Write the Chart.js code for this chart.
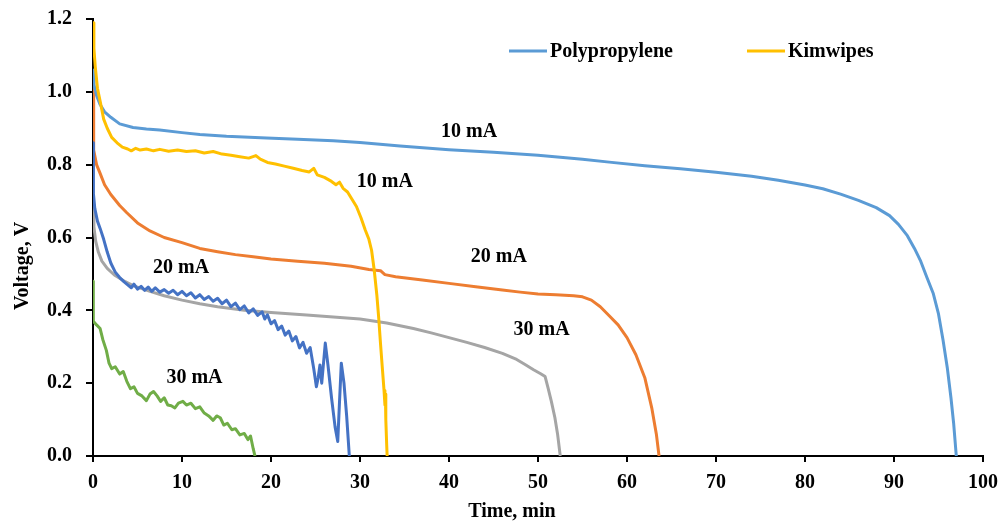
<!DOCTYPE html>
<html>
<head>
<meta charset="utf-8">
<script src="https://cdn.jsdelivr.net/npm/chart.js@4"></script>
<style>
  body { margin: 0; background: #fff; }
</style>
</head>
<body>
<canvas id="discharge-chart" width="1008" height="524"></canvas>
<script>
//Polypropylene separator, 10 mA
const ppTime10 = [0, 0.1, 0.4, 0.8, 1.3, 2.0, 3.0, 4.5, 6, 7.5, 10, 12, 15, 19.5, 23, 27, 30, 34.5, 40, 45, 50, 55, 58, 62, 66, 70, 74, 77, 80, 82, 84, 86, 88, 89.5, 90.5, 91.5, 92.3, 93, 93.7, 94.4, 95, 95.5, 96, 96.4, 96.7, 97.0];
const ppVolt10 = [1.06, 1.02, 0.99, 0.965, 0.945, 0.93, 0.912, 0.902, 0.898, 0.895, 0.888, 0.883, 0.878, 0.873, 0.870, 0.866, 0.861, 0.851, 0.841, 0.834, 0.826, 0.815, 0.807, 0.797, 0.789, 0.779, 0.768, 0.757, 0.744, 0.734, 0.719, 0.702, 0.682, 0.660, 0.636, 0.605, 0.570, 0.535, 0.490, 0.447, 0.390, 0.320, 0.240, 0.160, 0.090, 0.0];
//Polypropylene separator, 20 mA
const ppTime20 = [0, 0.05, 0.1, 0.4, 0.8, 1.3, 2.0, 3.0, 3.8, 5.0, 6.4, 8, 10, 12, 14, 16, 18, 20, 23, 26, 29, 31, 32.3, 32.8, 34, 37, 40, 43, 46, 48, 50, 52, 54, 55, 56, 57, 58, 59, 60, 61, 62, 62.8, 63.3, 63.6];
const ppVolt20 = [1.04, 0.90, 0.84, 0.80, 0.776, 0.745, 0.718, 0.688, 0.668, 0.640, 0.618, 0.600, 0.586, 0.570, 0.561, 0.553, 0.547, 0.541, 0.535, 0.529, 0.521, 0.512, 0.509, 0.498, 0.492, 0.483, 0.474, 0.465, 0.456, 0.450, 0.445, 0.443, 0.440, 0.437, 0.428, 0.410, 0.385, 0.360, 0.325, 0.278, 0.215, 0.130, 0.060, 0.0];
//Polypropylene separator, 30 mA
const ppTime30 = [0, 0.1, 0.3, 0.6, 1.0, 1.6, 2.4, 3.4, 4.5, 6.4, 8, 10, 12, 14, 17, 20, 24, 27, 30, 33, 36, 38, 40, 42, 44, 46, 47.6, 48.5, 49.5, 50.3, 50.8, 51.1, 51.5, 51.9, 52.2, 52.5];
const ppVolt30 = [0.69, 0.63, 0.59, 0.56, 0.535, 0.515, 0.497, 0.482, 0.468, 0.452, 0.440, 0.428, 0.418, 0.410, 0.400, 0.394, 0.387, 0.382, 0.376, 0.365, 0.350, 0.338, 0.325, 0.312, 0.298, 0.282, 0.265, 0.252, 0.237, 0.226, 0.218, 0.190, 0.150, 0.105, 0.060, 0.0];

//Kimwipes separator, 10 mA
const kwTime10 = [0, 0.1, 0.25, 0.5, 0.8, 1.2, 1.6, 2.1, 2.7, 3.3, 3.9, 4.3, 4.8, 5.3, 6.0, 6.8, 7.5, 8.5, 9.5, 10.5, 11.5, 12.5, 13.5, 14.5, 15.5, 16.5, 17.5, 18.3, 18.8, 19.6, 20.5, 21.5, 22.5, 23.5, 24.3, 24.8, 25.2, 26, 26.8, 27.3, 27.7, 28.1, 28.6, 29.1, 29.6, 30.1, 30.6, 31.0, 31.3, 31.6, 31.9, 32.1, 32.3, 32.5, 32.7, 32.8, 32.85, 32.9, 33.0, 33.05];
const kwVolt10 = [1.19, 1.12, 1.07, 1.01, 0.975, 0.925, 0.90, 0.875, 0.86, 0.848, 0.843, 0.838, 0.845, 0.840, 0.843, 0.838, 0.842, 0.837, 0.840, 0.836, 0.838, 0.832, 0.836, 0.829, 0.826, 0.822, 0.818, 0.825, 0.815, 0.806, 0.802, 0.796, 0.790, 0.784, 0.780, 0.790, 0.772, 0.765, 0.754, 0.745, 0.752, 0.735, 0.725, 0.705, 0.685, 0.655, 0.620, 0.595, 0.565, 0.510, 0.440, 0.380, 0.310, 0.245, 0.180, 0.140, 0.170, 0.100, 0.030, 0.0];
//Kimwipes separator, 20 mA
const kwTime20 = [0, 0.05, 0.2, 0.5, 0.8, 1.2, 1.6, 2.0, 2.5, 3.0, 3.5, 4.0, 4.3, 4.6, 5.0, 5.4, 5.8, 6.2, 6.6, 7.0, 7.5, 8.0, 8.5, 9.0, 9.5, 10.0, 10.5, 11.0, 11.5, 12.0, 12.5, 13.0, 13.5, 14.0, 14.5, 15.0, 15.5, 16.0, 16.5, 17.0, 17.5, 18.0, 18.5, 19.0, 19.3, 19.6, 20.0, 20.4, 20.8, 21.2, 21.6, 22.0, 22.4, 22.8, 23.2, 23.6, 24.0, 24.4, 24.8, 25.1, 25.3, 25.5, 25.7, 26.1, 26.4, 26.8, 27.2, 27.5, 27.7, 27.9, 28.2, 28.5, 28.8];
const kwVolt20 = [0.86, 0.72, 0.68, 0.645, 0.625, 0.595, 0.56, 0.53, 0.505, 0.49, 0.478, 0.468, 0.462, 0.472, 0.458, 0.466, 0.455, 0.464, 0.452, 0.462, 0.450, 0.457, 0.447, 0.455, 0.443, 0.452, 0.440, 0.448, 0.434, 0.443, 0.430, 0.438, 0.425, 0.433, 0.418, 0.428, 0.410, 0.420, 0.402, 0.412, 0.393, 0.404, 0.386, 0.396, 0.376, 0.388, 0.363, 0.372, 0.347, 0.357, 0.332, 0.343, 0.316, 0.328, 0.297, 0.312, 0.282, 0.298, 0.240, 0.190, 0.215, 0.250, 0.200, 0.310, 0.250, 0.160, 0.080, 0.040, 0.150, 0.255, 0.200, 0.110, 0.0];
//Kimwipes separator, 30 mA
const kwTime30 = [0, 0.02, 0.05, 0.4, 0.8, 1.1, 1.5, 1.8, 2.1, 2.5, 3.0, 3.4, 3.8, 4.2, 4.6, 5.0, 5.5, 6.0, 6.4, 6.8, 7.2, 7.6, 8.0, 8.4, 8.8, 9.2, 9.6, 10.1, 10.5, 11.0, 11.5, 12.0, 12.5, 13.0, 13.5, 13.9, 14.3, 14.7, 15.1, 15.6, 16.0, 16.5, 17.0, 17.4, 17.7, 18.0, 18.2];
const kwVolt30 = [0.48, 0.40, 0.37, 0.36, 0.35, 0.32, 0.29, 0.255, 0.24, 0.245, 0.225, 0.232, 0.205, 0.185, 0.19, 0.172, 0.165, 0.152, 0.170, 0.177, 0.165, 0.150, 0.160, 0.140, 0.138, 0.132, 0.145, 0.150, 0.140, 0.145, 0.130, 0.135, 0.118, 0.110, 0.098, 0.110, 0.105, 0.085, 0.090, 0.072, 0.075, 0.058, 0.062, 0.045, 0.055, 0.020, 0.0];

//Axis ticks
const timeTicks = [0, 10, 20, 30, 40, 50, 60, 70, 80, 90, 100];
const voltTicks = [0, 0.2, 0.4, 0.6, 0.8, 1.0, 1.2];

//Current labels placed next to the curves (time, voltage)
const noteText = ["10 mA", "10 mA", "20 mA", "30 mA", "20 mA", "30 mA"];
const noteTime = [42.25, 32.8, 45.6, 50.4, 9.9, 11.4];
const noteVolt = [0.889, 0.752, 0.548, 0.346, 0.518, 0.215];

const SERIF = "'Liberation Serif', 'Times New Roman', serif";
const PP_COLOR = "#5B9BD5";
const KW_COLOR = "#FFC000";

function toPoints(times, volts) {
  return times.map((t, i) => ({ x: t, y: volts[i] }));
}

function lineSet(label, times, volts, color) {
  return {
    label: label,
    data: toPoints(times, volts),
    borderColor: color,
    backgroundColor: color,
    borderWidth: 3,
    pointRadius: 0,
    showLine: true,
    tension: 0,
    borderJoinStyle: "round",
  };
}

//Legend, axis titles and current labels
const annotations = {
  id: "annotations",
  afterDraw(chart) {
    const ctx = chart.ctx;
    const xs = chart.scales.x;
    const ys = chart.scales.y;
    ctx.save();
    ctx.fillStyle = "#000";
    ctx.font = `bold 20px ${SERIF}`;
    ctx.textBaseline = "middle";

    //legend
    const legend = [
      { text: "Polypropylene", color: PP_COLOR, x: 509 },
      { text: "Kimwipes", color: KW_COLOR, x: 747 },
    ];
    legend.forEach((item) => {
      ctx.strokeStyle = item.color;
      ctx.lineWidth = 3;
      ctx.beginPath();
      ctx.moveTo(item.x, 51);
      ctx.lineTo(item.x + 38, 51);
      ctx.stroke();
      ctx.textAlign = "left";
      ctx.fillText(item.text, item.x + 41, 52);
    });

    //current labels
    ctx.textAlign = "center";
    noteText.forEach((text, i) => {
      ctx.fillText(text, xs.getPixelForValue(noteTime[i]), ys.getPixelForValue(noteVolt[i]));
    });

    //axis titles
    ctx.fillText("Time, min", 512, 512);
    ctx.translate(23, 266);
    ctx.rotate(-Math.PI / 2);
    ctx.fillText("Voltage, V", 0, 0);
    ctx.restore();
  },
};

const ctx = document.getElementById("discharge-chart").getContext("2d");
const chart = new Chart(ctx, {
  type: "scatter",
  data: {
    datasets: [
      lineSet("Kimwipes 20 mA", kwTime20, kwVolt20, "#4472C4"),
      lineSet("Kimwipes 30 mA", kwTime30, kwVolt30, "#70AD47"),
      lineSet("Kimwipes 10 mA", kwTime10, kwVolt10, KW_COLOR),
      lineSet("Polypropylene 10 mA", ppTime10, ppVolt10, PP_COLOR),
      lineSet("Polypropylene 20 mA", ppTime20, ppVolt20, "#ED7D31"),
      lineSet("Polypropylene 30 mA", ppTime30, ppVolt30, "#A5A5A5"),
    ],
  },
  options: {
    responsive: false,
    animation: false,
    layout: {
      padding: { top: 19, right: 25, left: 0, bottom: 0 },
    },
    plugins: {
      legend: { display: false },
      tooltip: { enabled: false },
    },
    scales: {
      x: {
        type: "linear",
        min: 0,
        max: 100,
        afterFit: (scale) => {
          scale.height = 68;
          scale.paddingLeft = 0;
          scale.paddingRight = 0;
        },
        afterBuildTicks: (scale) => {
          scale.ticks = timeTicks.map((v) => ({ value: v }));
        },
        ticks: {
          padding: 9,
          color: "#000",
          font: { family: SERIF, size: 20, weight: "bold" },
        },
        grid: {
          drawOnChartArea: false,
          tickLength: 6,
          color: "#000",
          lineWidth: 2,
        },
        border: { color: "#000", width: 2 },
      },
      y: {
        type: "linear",
        min: 0,
        max: 1.2,
        afterFit: (scale) => {
          scale.width = 93;
          //keep the top label from pushing the plot area down
          scale.paddingTop = 0;
          scale.paddingBottom = 0;
        },
        afterBuildTicks: (scale) => {
          scale.ticks = voltTicks.map((v) => ({ value: v }));
        },
        ticks: {
          padding: 14,
          color: "#000",
          font: { family: SERIF, size: 20, weight: "bold" },
          callback: (value) => Number(value).toFixed(1),
        },
        grid: {
          drawOnChartArea: false,
          tickLength: 7,
          color: "#000",
          lineWidth: 2,
        },
        border: { color: "#000", width: 2 },
      },
    },
  },
  plugins: [annotations],
});
</script>
</body>
</html>
